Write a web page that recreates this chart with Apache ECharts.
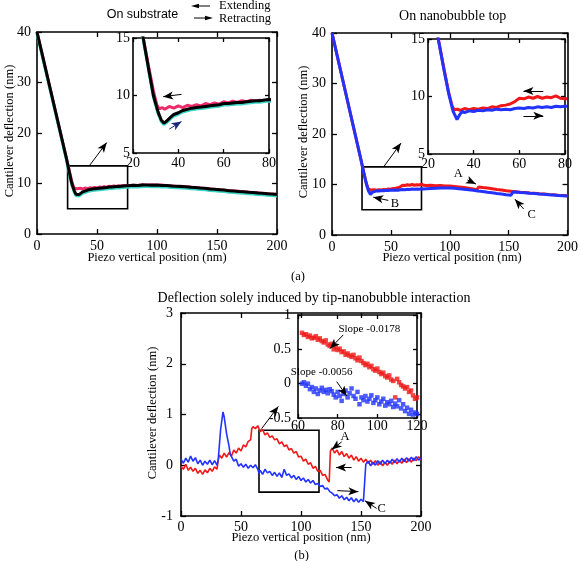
<!DOCTYPE html>
<html><head><meta charset="utf-8">
<script src="https://cdn.jsdelivr.net/npm/echarts@6/dist/echarts.min.js"></script>
<style>html,body{margin:0;padding:0;background:#fff}#c{width:581px;height:561px}</style>
</head><body><div id="c"></div>
<script>
// ---------- DATA ----------
// (a) left: on substrate, cantilever deflection (nm) vs piezo position (nm)
const subExtending = [[0,40],[24.5,15],[27,12.4],[29,10.4],[30.5,9.2],[31.5,8.85],[33,8.95],[34,8.8],[36,9.05],[38,8.9],[40,9.1],[42,8.95],[44,9.15],[46,9.05],[48,9.2],[50,9.1],[52,9.3],[54,9.2],[56,9.35],[58,9.25],[60,9.45],[62,9.35],[64,9.5],[66,9.4],[68,9.55],[70,9.45],[72,9.6],[74,9.5],[76,9.6],[78,9.5],[80,9.65],[84,9.6],[88,9.75],[92,9.65],[96,9.75],[100,9.65],[104,9.7],[108,9.55],[112,9.55],[116,9.4],[120,9.45],[124,9.3],[128,9.3],[132,9.15],[136,9.1],[140,9.0],[144,8.95],[148,8.8],[152,8.8],[156,8.65],[160,8.6],[164,8.5],[168,8.45],[172,8.3],[176,8.3],[180,8.15],[184,8.15],[188,8.0],[192,8.0],[196,7.85],[200,7.85]];
const subRetracting = [[0,40],[24.5,15],[27,12.2],[29,10.0],[31,8.6],[32.5,7.85],[33.7,7.6],[35,7.8],[36.5,8.1],[38,8.35],[40,8.5],[42,8.7],[44,8.8],[46,8.9],[48,8.95],[50,9.0],[52,9.05],[54,9.1],[56,9.15],[58,9.2],[60,9.3],[62,9.3],[64,9.35],[66,9.4],[68,9.4],[70,9.45],[72,9.5],[74,9.55],[76,9.55],[78,9.6],[80,9.65],[84,9.6],[88,9.7],[92,9.7],[96,9.65],[100,9.7],[104,9.6],[108,9.6],[112,9.5],[116,9.45],[120,9.4],[124,9.35],[128,9.25],[132,9.2],[136,9.1],[140,9.05],[144,8.9],[148,8.85],[152,8.75],[156,8.7],[160,8.55],[164,8.5],[168,8.4],[172,8.35],[176,8.25],[180,8.2],[184,8.1],[188,8.05],[192,7.95],[196,7.9],[200,7.8]];
// (a) right: on nanobubble top
const nbExtending = [[0,40],[24.5,15],[27,12.4],[29,10.4],[30.5,9.2],[31.5,8.85],[33,8.9],[34,8.8],[36,8.95],[38,8.85],[40,8.95],[42,8.9],[44,9.0],[46,8.95],[48,9.1],[50,9.05],[52,9.2],[54,9.25],[56,9.35],[58,9.55],[60,9.85],[62,9.8],[64,9.95],[66,9.85],[68,10.0],[70,9.85],[72,9.95],[74,9.9],[76,10.05],[78,9.85],[80,9.8],[84,9.85],[88,9.75],[92,9.8],[96,9.7],[100,9.7],[104,9.6],[108,9.5],[112,9.4],[116,9.25],[120,9.1],[123,8.95],[124.5,9.5],[128,9.4],[132,9.3],[136,9.15],[140,9.0],[144,8.9],[148,8.75],[152,8.65],[156,8.55],[160,8.45],[164,8.4],[168,8.3],[172,8.25],[176,8.15],[180,8.1],[184,8.0],[188,7.95],[192,7.85],[196,7.8],[200,7.75]];
const nbRetracting = [[0,40],[24.5,15],[27,12.3],[29,10.3],[31,8.7],[32.7,8.0],[34,8.45],[35,8.7],[36,8.6],[38,8.75],[40,8.7],[42,8.8],[44,8.75],[46,8.85],[48,8.8],[50,8.9],[52,8.85],[54,8.9],[56,8.85],[58,8.95],[60,9.0],[62,8.95],[64,9.05],[66,9.0],[68,9.1],[70,9.05],[72,9.1],[74,9.05],[76,9.15],[78,9.1],[80,9.15],[84,9.2],[88,9.25],[92,9.3],[96,9.3],[100,9.3],[104,9.25],[108,9.15],[112,9.05],[116,8.95],[120,8.85],[124,8.7],[128,8.6],[132,8.45],[136,8.35],[140,8.2],[144,8.1],[148,7.95],[152,7.85],[153.5,8.45],[156,8.5],[160,8.4],[164,8.35],[168,8.25],[172,8.2],[176,8.1],[180,8.05],[184,7.95],[188,7.9],[192,7.8],[196,7.75],[200,7.7]];
// (b) deflection solely induced by tip-nanobubble interaction
const diffExtending = [[0,-0.02],[2,-0.08],[4,0.02],[6,-0.1],[8,-0.04],[10,-0.12],[12,-0.06],[14,-0.16],[16,-0.1],[18,-0.18],[20,-0.09],[22,-0.15],[24,-0.06],[26,-0.12],[28,-0.03],[30,-0.08],[31,0.1],[32,0.2],[34,0.14],[36,0.24],[38,0.16],[40,0.25],[42,0.18],[44,0.3],[46,0.24],[48,0.34],[50,0.28],[52,0.4],[54,0.36],[56,0.47],[58,0.5],[59,0.72],[60,0.76],[62,0.72],[64,0.78],[66,0.66],[68,0.7],[70,0.6],[72,0.64],[74,0.55],[76,0.58],[78,0.5],[80,0.52],[82,0.42],[84,0.46],[86,0.37],[88,0.4],[90,0.3],[92,0.33],[94,0.24],[96,0.27],[98,0.16],[100,0.18],[102,0.08],[104,0.12],[106,0.02],[108,0.05],[110,-0.06],[112,-0.02],[114,-0.12],[116,-0.1],[118,-0.2],[120,-0.18],[122,-0.28],[123.5,-0.33],[124.5,0.28],[126,0.34],[128,0.24],[130,0.3],[132,0.2],[134,0.27],[136,0.17],[138,0.23],[140,0.14],[142,0.2],[144,0.1],[146,0.17],[148,0.08],[150,0.14],[152,0.06],[154,0.12],[156,0.04],[158,0.1],[160,0.02],[162,0.09],[164,0.0],[166,0.07],[168,-0.01],[170,0.06],[172,0.0],[174,0.08],[176,0.02],[178,0.1],[180,0.03],[182,0.1],[184,0.04],[186,0.12],[188,0.05],[190,0.13],[192,0.06],[194,0.14],[196,0.09],[198,0.17],[200,0.1]];
const diffRetracting = [[0,0.12],[2,0.04],[4,0.14],[6,0.06],[8,0.18],[10,0.08],[12,0.15],[14,0.03],[16,0.1],[18,0.0],[20,0.08],[22,0.02],[24,0.1],[26,0.01],[28,0.09],[30,0.0],[31,0.1],[33,0.7],[35,1.05],[36,0.95],[38,0.62],[40,0.38],[41,0.22],[42,0.2],[44,0.08],[46,0.12],[48,-0.02],[50,0.03],[52,-0.04],[54,0.02],[56,-0.06],[58,0.0],[60,-0.05],[62,0.01],[64,-0.08],[65,-0.16],[66,-0.1],[68,-0.18],[70,-0.08],[72,-0.15],[74,-0.12],[76,-0.2],[78,-0.14],[80,-0.22],[82,-0.15],[84,-0.24],[86,-0.08],[88,-0.2],[90,-0.17],[92,-0.25],[94,-0.2],[96,-0.28],[98,-0.22],[100,-0.3],[102,-0.25],[104,-0.33],[106,-0.28],[108,-0.35],[110,-0.3],[112,-0.38],[114,-0.36],[116,-0.42],[118,-0.4],[120,-0.47],[122,-0.45],[124,-0.52],[126,-0.55],[128,-0.6],[130,-0.58],[132,-0.65],[134,-0.6],[136,-0.68],[138,-0.63],[140,-0.7],[142,-0.64],[144,-0.72],[146,-0.66],[148,-0.73],[150,-0.67],[152,-0.72],[153,-0.7],[154,0.02],[156,0.08],[158,-0.01],[160,0.06],[162,0.0],[164,0.09],[166,0.02],[168,0.1],[170,0.03],[172,0.1],[174,0.04],[176,0.12],[178,0.05],[180,0.13],[182,0.06],[184,0.14],[186,0.07],[188,0.15],[190,0.08],[192,0.16],[194,0.09],[196,0.17],[198,0.1],[200,0.14]];
// (b) inset: fitted region 60-120 nm
const insetPos = [62,63,64,65,66,67,68,69,70,71,72,73,74,75,76,77,78,79,80,81,82,83,84,85,86,87,88,89,90,91,92,93,94,95,96,97,98,99,100,101,102,103,104,105,106,107,108,109,110,111,112,113,114,115,116,117,118,119,120];
const insetExtending = [0.74,0.71,0.72,0.68,0.70,0.66,0.67,0.69,0.64,0.66,0.62,0.60,0.63,0.57,0.55,0.58,0.50,0.53,0.49,0.51,0.46,0.47,0.42,0.44,0.41,0.39,0.42,0.37,0.34,0.38,0.33,0.30,0.27,0.29,0.24,0.26,0.21,0.19,0.22,0.17,0.14,0.16,0.11,0.09,0.12,0.06,0.04,-0.2,0.07,0.02,-0.02,-0.04,-0.07,-0.05,-0.12,-0.10,-0.17,-0.22,-0.20];
const insetRetracting = [0.0,0.02,-0.03,0.0,-0.08,-0.05,-0.12,-0.07,-0.15,-0.1,-0.06,-0.12,-0.09,-0.14,-0.08,-0.11,-0.16,-0.2,-0.12,-0.18,-0.25,-0.15,-0.1,-0.2,-0.14,-0.07,-0.18,-0.22,-0.12,-0.3,-0.2,-0.24,-0.18,-0.26,-0.22,-0.17,-0.28,-0.24,-0.2,-0.3,-0.26,-0.22,-0.32,-0.27,-0.3,-0.25,-0.34,-0.29,-0.33,-0.24,-0.36,-0.3,-0.4,-0.35,-0.44,-0.38,-0.45,-0.42,-0.44];
// axis ranges [min, max, interval]
const mainX = [0, 200, 50], mainY = [0, 40, 10];
const zoomX = [20, 80, 20], zoomY = [5, 15, 5];
const diffY = [-1, 3, 1];
const fitX = [60, 120, 20], fitY = [-0.5, 1, 0.5];
// annotation texts
const titles = ['On substrate', 'On nanobubble top', 'Deflection solely induced by tip-nanobubble interaction'];
const legendNames = ['Extending', 'Retracting'];
const xName = 'Piezo vertical position (nm)', yName = 'Cantilever deflection (nm)';
const slopeTexts = ['Slope -0.0178', 'Slope -0.0056'];

// ---------- CHART ----------
const SERIF = '"Liberation Serif", "Times New Roman", serif';
const RED = '#f01818', BLUE = '#2233ff', PINK = '#ee2a6a';
const chart = echarts.init(document.getElementById('c'), null, {renderer: 'canvas'});

const grids = [
  {left: 37, top: 32, width: 240, height: 202},
  {left: 133, top: 38, width: 136, height: 115},
  {left: 332, top: 33, width: 240, height: 202},
  {left: 428, top: 39, width: 137, height: 115},
  {left: 181, top: 313, width: 240, height: 203},
  {left: 298, top: 315, width: 119, height: 103}
].map((g, i) => Object.assign({show: i % 2 === 1, backgroundColor: '#fff', borderWidth: 0}, g));

const ranges = [
  {x: mainX, y: mainY, xm: 5, ym: 6, tl: 5},
  {x: zoomX, y: zoomY, xm: 3, ym: 3, tl: 4},
  {x: mainX, y: mainY, xm: 5, ym: 6, tl: 5},
  {x: zoomX, y: zoomY, xm: 3, ym: 3, tl: 4},
  {x: mainX, y: diffY, xm: 4, ym: 8, tl: 5},
  {x: fitX, y: fitY, xm: 1, ym: 7, tl: 4}
];
const xAxes = [], yAxes = [];
function ax(gi, r, pos, label, margin, tl) {
  return {
    type: 'value', gridIndex: gi, position: pos, min: r[0], max: r[1], interval: r[2],
    axisLine: {show: true, onZero: false, lineStyle: {color: '#000', width: 1.6}},
    axisTick: {show: true, inside: true, length: tl, lineStyle: {color: '#000', width: 1.3}},
    splitLine: {show: false},
    axisLabel: {show: label, color: '#000', fontFamily: SERIF, fontSize: 14, margin: margin}
  };
}
ranges.forEach((r, gi) => {
  xAxes.push(ax(gi, r.x, 'bottom', true, r.xm, r.tl));
  xAxes.push(ax(gi, r.x, 'top', false, 0, r.tl));
  yAxes.push(ax(gi, r.y, 'left', true, r.ym, r.tl));
  yAxes.push(ax(gi, r.y, 'right', false, 0, r.tl));
});

function arrows(list, color) {
  return {
    silent: true, animation: false, symbol: ['none', 'arrow'], symbolSize: [6, 10],
    label: {show: false}, emphasis: {disabled: true},
    lineStyle: {type: 'solid', color: color || '#000', width: 1},
    data: list.map(a => [{coord: a[0]}, {coord: a[1]}])
  };
}
function box(a, b) {
  return {
    silent: true, animation: false, label: {show: false}, emphasis: {disabled: true},
    itemStyle: {color: 'rgba(0,0,0,0)', borderColor: '#000', borderWidth: 1.6},
    data: [[{coord: a}, {coord: b}]]
  };
}
function line(gi, data, color, w, extra) {
  return Object.assign({
    type: 'line', xAxisIndex: gi * 2, yAxisIndex: gi * 2, data: data,
    showSymbol: false, symbol: 'none', clip: true, animation: false, silent: true,
    lineStyle: {color: color, width: w}
  }, extra || {});
}
const blackRet = {color: '#000', width: 3, shadowColor: '#3cd6c8', shadowBlur: 0, shadowOffsetY: 1.5};

const series = [
  // grid 0: substrate main
  line(0, subExtending, PINK, 3, {
    markArea: box([25.5, 5], [75.5, 13.5]),
    markLine: arrows([[[43.6, 13.5], [58.1, 18.1]]])
  }),
  line(0, subRetracting, '#000', 3, {lineStyle: blackRet}),
  // grid 1: substrate inset
  line(1, subExtending, PINK, 3, {
    markLine: arrows([[[41.4, 10.1], [33.3, 9.9]]])
  }),
  line(1, subRetracting, '#000', 3, {
    lineStyle: blackRet,
    markLine: arrows([[[36.0, 7.08], [41.4, 7.74]]], '#1a2a7a')
  }),
  // grid 2: nanobubble main
  line(2, nbExtending, RED, 3, {
    markArea: box([25.5, 5], [76, 13.5]),
    markLine: arrows([
      [[44.2, 13.6], [58.6, 18.2]],
      [[115, 10.9], [122.2, 10.1]],
      [[47.8, 6.85], [35, 7.5]],
      [[162.8, 5.15], [155.3, 7.1]]
    ])
  }),
  line(2, nbRetracting, BLUE, 3),
  // grid 3: nanobubble inset
  line(3, nbExtending, RED, 3, {
    markLine: arrows([[[70.5, 10.48], [61.8, 10.48]], [[61.8, 8.32], [70.5, 8.32]]])
  }),
  line(3, nbRetracting, BLUE, 3),
  // grid 4: difference
  line(4, diffExtending, RED, 1.6, {
    markArea: box([65, -0.53], [115, 0.69]),
    markLine: arrows([
      [[67.2, 0.72], [81.1, 1.16]],
      [[142.2, -0.045], [129.2, -0.045]],
      [[130.3, -0.5], [147.8, -0.52]],
      [[133.9, 0.46], [125.6, 0.31]],
      [[163, -0.85], [153.3, -0.70]]
    ])
  }),
  line(4, diffRetracting, BLUE, 1.6),
  // grid 5: fit inset
  {type: 'scatter', xAxisIndex: 10, yAxisIndex: 10, symbol: 'rect', symbolSize: 4.5, silent: true, animation: false,
   itemStyle: {color: RED}, data: insetPos.map((x, i) => [x, insetExtending[i]]),
   markLine: arrows([[[82.8, 0.71], [76.1, 0.51]], [[79.5, 0.03], [84.6, -0.18]]])},
  {type: 'scatter', xAxisIndex: 10, yAxisIndex: 10, symbol: 'rect', symbolSize: 4.5, silent: true, animation: false,
   itemStyle: {color: BLUE}, data: insetPos.map((x, i) => [x, insetRetracting[i]])}
];

function txt(s, x, y, size, opts) {
  opts = opts || {};
  return {
    type: 'text', x: x, y: y, rotation: opts.rot || 0, silent: true, z: 100,
    style: {text: s, font: size + 'px ' + (opts.family || SERIF), fill: '#000',
            textAlign: opts.align || 'center', textVerticalAlign: 'middle'}
  };
}
const graphic = [
  txt(titles[0], 142.5, 15, 12.5, {family: '"Liberation Sans", Arial, sans-serif'}),
  txt(legendNames[0], 219, 6, 12.5, {align: 'left'}),
  txt(legendNames[1], 219, 18.5, 12.5, {align: 'left'}),
  {type: 'line', silent: true, shape: {x1: 196, y1: 6, x2: 210, y2: 6}, style: {stroke: '#000', lineWidth: 1}},
  {type: 'polygon', silent: true, shape: {points: [[191, 6], [199, 3.8], [199, 8.2]]}, style: {fill: '#000'}},
  {type: 'line', silent: true, shape: {x1: 194, y1: 18, x2: 208, y2: 18}, style: {stroke: '#000', lineWidth: 1}},
  {type: 'polygon', silent: true, shape: {points: [[213, 18], [205, 15.8], [205, 20.2]]}, style: {fill: '#000'}},
  txt(titles[1], 452.7, 16.5, 14),
  txt(titles[2], 314, 298, 14),
  txt(xName, 157, 258, 12.5),
  txt(xName, 452, 258, 12.5),
  txt(xName, 301, 538, 12.5),
  txt(yName, 10, 131, 12.5, {rot: Math.PI / 2}),
  txt(yName, 304, 132, 12.5, {rot: Math.PI / 2}),
  txt(yName, 153, 413, 12.5, {rot: Math.PI / 2}),
  txt('(a)', 298, 277, 12.5),
  txt('(b)', 301.5, 555.5, 12.5),
  txt('A', 458.3, 174, 12.5),
  txt('B', 395, 203.3, 12.5),
  txt('C', 531.7, 215, 12.5),
  txt('A', 345, 436.7, 12.5),
  txt('C', 381.7, 508.3, 12.5),
  txt(slopeTexts[0], 369.3, 329.3, 11),
  txt(slopeTexts[1], 321.7, 371.7, 11)
];

chart.setOption({
  animation: false,
  backgroundColor: '#fff',
  grid: grids, xAxis: xAxes, yAxis: yAxes, series: series, graphic: graphic
});
</script></body></html>
